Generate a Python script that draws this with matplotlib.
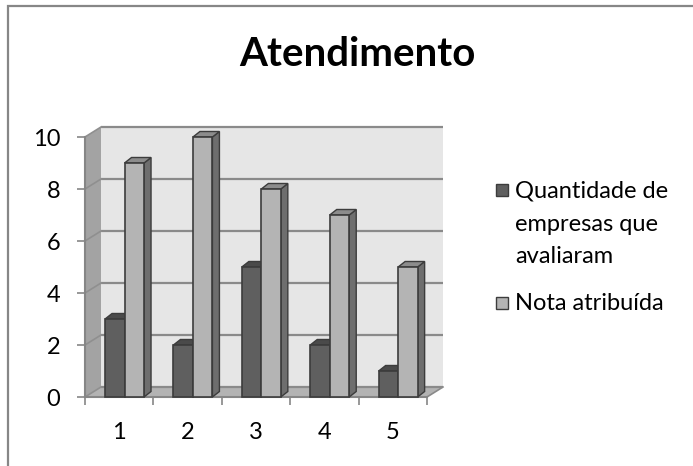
import matplotlib
matplotlib.use("Agg")
import matplotlib.pyplot as plt
from matplotlib.patches import Polygon, Rectangle

plt.rcParams['font.family'] = ['Lato', 'DejaVu Sans']

# ---- data ----
categories = ['1', '2', '3', '4', '5']
quantidade = [3, 2, 5, 2, 1]
nota = [9, 10, 8, 7, 5]
series_labels = ['Quantidade de\nempresas que\navaliaram', 'Nota atribuída']
title = 'Atendimento'
yticks = [0, 2, 4, 6, 8, 10]

# ---- style ----
W, H = 693, 466
DARK = '#5f5f5f'; DARK_TOP = '#4a4a4a'; DARK_SIDE = '#444444'
LIGHT = '#b4b4b4'; LIGHT_TOP = '#8c8c8c'; LIGHT_SIDE = '#6e6e6e'
EDGE = '#3c3c3c'
WALL = '#e6e6e6'; SIDEWALL = '#a3a3a3'; FLOOR = '#b3b3b3'
GRID = '#8a8a8a'; AXIS = '#868686'
FS = 17

fig = plt.figure(figsize=(W / 100, H / 100), dpi=100)
fig.patch.set_facecolor('white')

# frame around chart area
fig.patches.append(Rectangle((8 / W, -0.1), 1.2, (H - 6) / H + 0.1, transform=fig.transFigure,
                             fill=False, edgecolor='#878787', linewidth=1.6))

left, right, top, bottom = 85, 427, 137, 397
ax = fig.add_axes([left / W, 1 - bottom / H, (right - left) / W, (bottom - top) / H])
ax.set_xlim(0.5, 5.5)
ax.set_ylim(0, 10)
ax.patch.set_visible(False)

px_x = (right - left) / 5.0
px_y = (bottom - top) / 10.0
DX, DY = 16 / px_x, 10 / px_y          # wall depth
BDX, BDY = 7 / px_x, 5.5 / px_y        # bar depth

x0, x1 = 0.5, 5.5
ymax = 10
# back wall
ax.add_patch(Polygon([(x0 + DX, DY), (x1 + DX, DY), (x1 + DX, ymax + DY), (x0 + DX, ymax + DY)],
                     closed=True, facecolor=WALL, edgecolor='none', zorder=0, clip_on=False))
# left wall
ax.add_patch(Polygon([(x0, 0), (x0 + DX, DY), (x0 + DX, ymax + DY), (x0, ymax)],
                     closed=True, facecolor=SIDEWALL, edgecolor='none', zorder=0.5, clip_on=False))
# floor
ax.add_patch(Polygon([(x0, 0), (x1, 0), (x1 + DX, DY), (x0 + DX, DY)],
                     closed=True, facecolor=FLOOR, edgecolor='none', zorder=0.6, clip_on=False))
# gridlines on back and left wall
for v in yticks:
    ax.plot([x0 + DX, x1 + DX], [v + DY, v + DY], color=GRID, lw=1.6, zorder=0.7, clip_on=False,
            solid_capstyle='butt')
    ax.plot([x0, x0 + DX], [v, v + DY], color='#8f8f8f', lw=1.2, zorder=0.7, clip_on=False)
ax.plot([x1, x1 + DX], [0, DY], color=GRID, lw=1.2, zorder=0.7, clip_on=False)

# bars
bw = 0.285
offsets = [-0.207, 0.078]
series = [quantidade, nota]
fronts = [DARK, LIGHT]
tops = [DARK_TOP, LIGHT_TOP]
sides = [DARK_SIDE, LIGHT_SIDE]
z = 2
for i, c in enumerate(range(1, len(categories) + 1)):
    for s in range(2):
        h = series[s][i]
        xl = c + offsets[s]
        xr = xl + bw
        ax.add_patch(Polygon([(xr, 0), (xr + BDX, BDY), (xr + BDX, h + BDY), (xr, h)], closed=True,
                             facecolor=sides[s], edgecolor=EDGE, lw=1.0, zorder=z, clip_on=False))
        ax.add_patch(Polygon([(xl, h), (xr, h), (xr + BDX, h + BDY), (xl + BDX, h + BDY)], closed=True,
                             facecolor=tops[s], edgecolor=EDGE, lw=1.0, zorder=z, clip_on=False))
        ax.bar([xl], [h], width=bw, align='edge', color=fronts[s], edgecolor=EDGE, linewidth=1.2,
               zorder=z + 0.1, clip_on=False)
        z += 0.2

# axes styling
for sp in ['top', 'right']:
    ax.spines[sp].set_visible(False)
for sp in ['left', 'bottom']:
    ax.spines[sp].set_color(AXIS)
    ax.spines[sp].set_linewidth(1.5)
    ax.spines[sp].set_zorder(1)

ax.set_yticks(yticks)
ax.set_yticklabels([str(v) for v in yticks])
ax.tick_params(axis='y', length=5.8, width=1.2, color=AXIS, pad=12, labelsize=FS, labelcolor='black')
ax.set_xticks(range(1, len(categories) + 1))
ax.set_xticklabels(categories)
ax.set_xticks([k + 0.5 for k in range(0, len(categories) + 1)], minor=True)
ax.tick_params(axis='x', which='major', length=0, pad=18, labelsize=FS, labelcolor='black')
ax.tick_params(axis='x', which='minor', length=5.8, width=1.2, color=AXIS)

# title
fig.text(357 / W, 1 - 55 / H, title, ha='center', va='center', fontsize=29, fontweight='bold')

# legend
leg_y = [(190, [198, 231, 263]), (303, [310])]
for s, (sq_c, baselines) in enumerate(leg_y):
    fig.patches.append(Rectangle((496 / W, 1 - (sq_c + 6) / H), 12 / W, 12 / H, transform=fig.transFigure,
                                 facecolor=fronts[s], edgecolor=EDGE, linewidth=1.0))
    for line, b in zip(series_labels[s].split('\n'), baselines):
        fig.text(515 / W, 1 - b / H, line, ha='left', va='baseline', fontsize=FS)

fig.savefig('out.png', dpi=100)
